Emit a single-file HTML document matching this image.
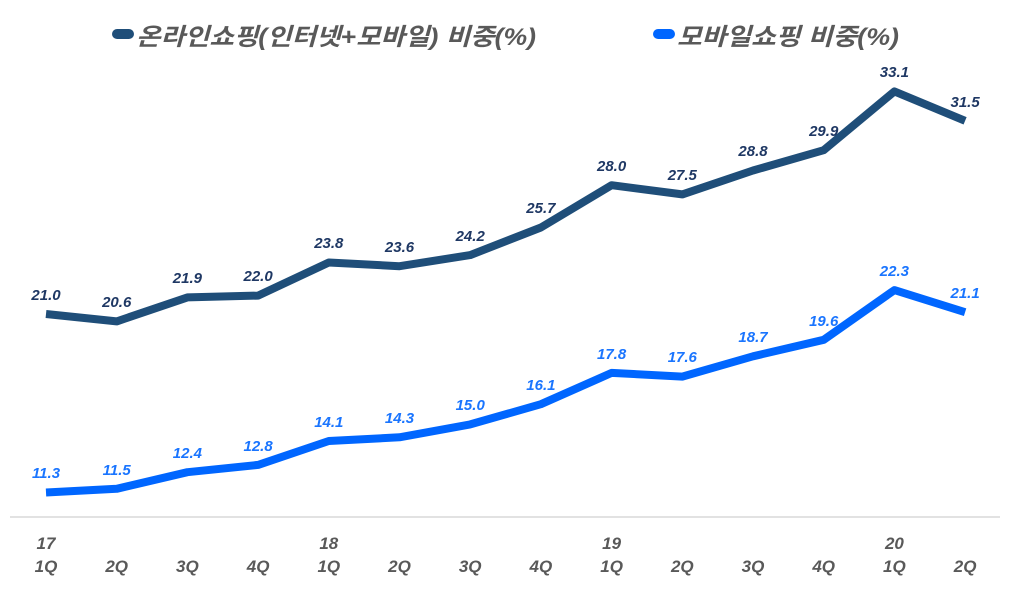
<!DOCTYPE html>
<html><head><meta charset="utf-8"><style>
body{margin:0;background:#fff;}
svg{display:block;font-family:"Liberation Sans","Noto Sans CJK KR",sans-serif;}
</style></head><body>
<svg width="1024" height="597" viewBox="0 0 1024 597">
<line x1="10" y1="517" x2="1000" y2="517" stroke="#d9d9d9" stroke-width="1.5"/>
<g font-weight="bold" font-style="italic" font-size="24" fill="#595959">
<rect x="112" y="29" width="22" height="10" rx="5" fill="#1f4e79"/>
<text x="136" y="45" textLength="400" lengthAdjust="spacingAndGlyphs">온라인쇼핑(인터넷+모바일) 비중(%)</text>
<rect x="653" y="29" width="22" height="10" rx="5" fill="#0066ff"/>
<text x="677" y="45" textLength="222" lengthAdjust="spacingAndGlyphs">모바일쇼핑 비중(%)</text>
</g>
<polyline fill="none" stroke="#1f4e79" stroke-width="8" stroke-linejoin="round" points="46,314 116.7,321.4 187.4,297.4 258.1,295.6 328.8,262.5 399.5,266.2 470.2,255.1 540.9,227.5 611.6,185.2 682.3,194.4 753,170.5 823.7,150.2 894.4,91.4 965.1,120.8"/>
<polyline fill="none" stroke="#0066ff" stroke-width="8" stroke-linejoin="round" points="46,492.5 116.7,488.8 187.4,472.2 258.1,464.9 328.8,441 399.5,437.3 470.2,424.4 540.9,404.2 611.6,372.9 682.3,376.6 753,356.3 823.7,339.8 894.4,290.1 965.1,312.2"/>
<g font-weight="bold" font-style="italic" font-size="15" fill="#1f3864" text-anchor="middle">
<text x="46" y="300">21.0</text><text x="116.7" y="307">20.6</text><text x="187.4" y="283">21.9</text><text x="258.1" y="281">22.0</text><text x="328.8" y="248">23.8</text><text x="399.5" y="252">23.6</text><text x="470.2" y="241">24.2</text><text x="540.9" y="213">25.7</text><text x="611.6" y="171">28.0</text><text x="682.3" y="180">27.5</text><text x="753" y="156">28.8</text><text x="823.7" y="136">29.9</text><text x="894.4" y="77">33.1</text><text x="965.1" y="107">31.5</text>
</g>
<g font-weight="bold" font-style="italic" font-size="15" fill="#1a75ff" text-anchor="middle">
<text x="46" y="478">11.3</text><text x="116.7" y="475">11.5</text><text x="187.4" y="458">12.4</text><text x="258.1" y="451">12.8</text><text x="328.8" y="427">14.1</text><text x="399.5" y="423">14.3</text><text x="470.2" y="410">15.0</text><text x="540.9" y="390">16.1</text><text x="611.6" y="359">17.8</text><text x="682.3" y="362">17.6</text><text x="753" y="342">18.7</text><text x="823.7" y="326">19.6</text><text x="894.4" y="276">22.3</text><text x="965.1" y="298">21.1</text>
</g>
<g font-weight="bold" font-style="italic" font-size="17" fill="#595959" text-anchor="middle">
<text x="46" y="549">17</text><text x="328.8" y="549">18</text><text x="611.6" y="549">19</text><text x="894.4" y="549">20</text>
<text x="46" y="572">1Q</text><text x="116.7" y="572">2Q</text><text x="187.4" y="572">3Q</text><text x="258.1" y="572">4Q</text><text x="328.8" y="572">1Q</text><text x="399.5" y="572">2Q</text><text x="470.2" y="572">3Q</text><text x="540.9" y="572">4Q</text><text x="611.6" y="572">1Q</text><text x="682.3" y="572">2Q</text><text x="753" y="572">3Q</text><text x="823.7" y="572">4Q</text><text x="894.4" y="572">1Q</text><text x="965.1" y="572">2Q</text>
</g>
</svg>
</body></html>
